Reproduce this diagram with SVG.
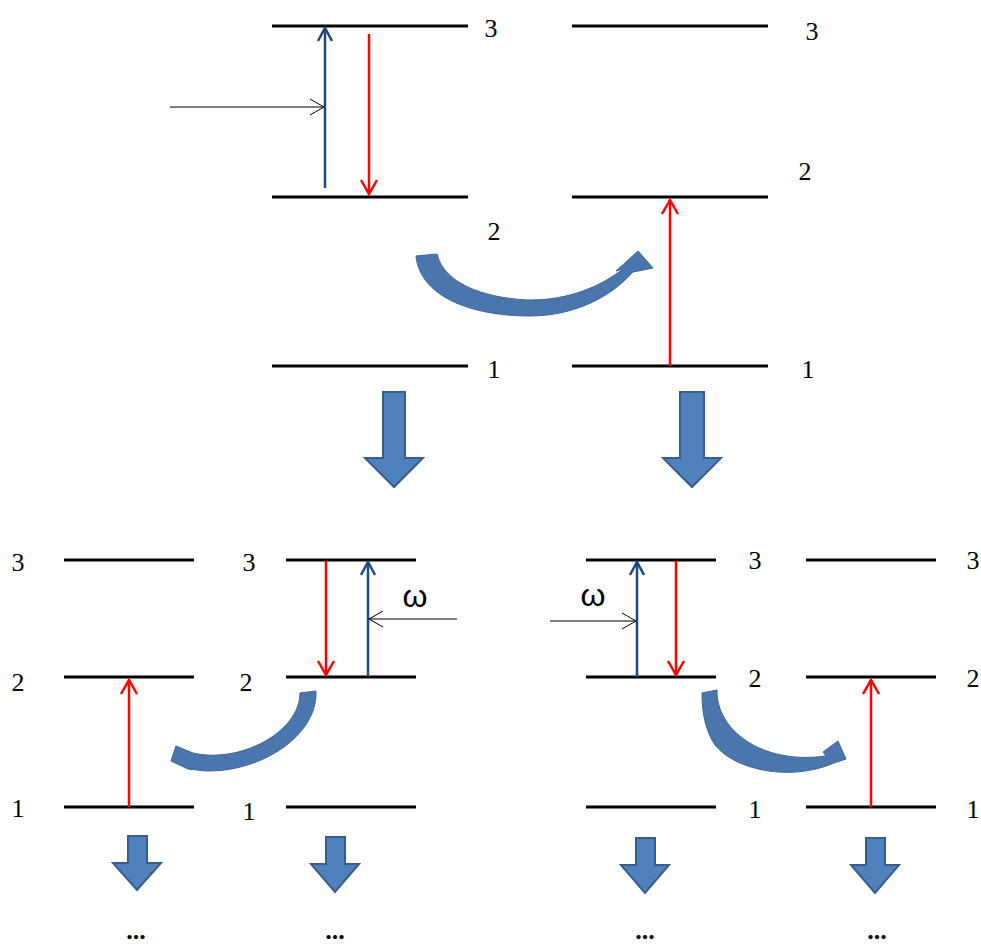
<svg xmlns="http://www.w3.org/2000/svg" width="981" height="947" viewBox="0 0 981 947">
<style>
.lvl{stroke:#000;stroke-width:3;fill:none}
.num{font-family:"Liberation Serif",serif;font-size:26px;fill:#000;text-anchor:middle}
.om{font-family:"Liberation Sans",sans-serif;font-size:32px;fill:#000;text-anchor:middle}
.dots{font-family:"Liberation Serif",serif;font-size:26px;font-weight:bold;fill:#000;text-anchor:middle}
.red{stroke:#FF0000;stroke-width:2.5;fill:none}
.blue{stroke:#1F497D;stroke-width:2.5;fill:none}
.thin{stroke:#000;stroke-width:1;fill:none}
.blk{fill:#4F81BD;stroke:#385D8A;stroke-width:2}
.curve{fill:#4A76AD;stroke:#3D6796;stroke-width:1}
</style>
<rect width="981" height="947" fill="#fff"/>

<g id="system-top-left">
<line class="lvl" x1="272" y1="26" x2="468" y2="26"/>
<line class="lvl" x1="272" y1="197" x2="468" y2="197"/>
<line class="lvl" x1="272" y1="366" x2="468" y2="366"/>
<text class="num" x="491" y="37">3</text>
<text class="num" x="494" y="240">2</text>
<text class="num" x="494" y="378">1</text>
</g>

<g id="system-top-right">
<line class="lvl" x1="572" y1="26" x2="768" y2="26"/>
<line class="lvl" x1="572" y1="197" x2="768" y2="197"/>
<line class="lvl" x1="572" y1="366" x2="768" y2="366"/>
<text class="num" x="812" y="40">3</text>
<text class="num" x="805" y="180">2</text>
<text class="num" x="808" y="378">1</text>
</g>

<g id="system-a">
<line class="lvl" x1="64" y1="560" x2="194" y2="560"/>
<line class="lvl" x1="64" y1="677" x2="194" y2="677"/>
<line class="lvl" x1="64" y1="807" x2="194" y2="807"/>
<text class="num" x="18" y="571">3</text>
<text class="num" x="18" y="691">2</text>
<text class="num" x="18" y="817">1</text>
</g>

<g id="system-b">
<line class="lvl" x1="286" y1="560" x2="416" y2="560"/>
<line class="lvl" x1="286" y1="677" x2="416" y2="677"/>
<line class="lvl" x1="286" y1="807" x2="416" y2="807"/>
<text class="num" x="249" y="571">3</text>
<text class="num" x="246" y="691">2</text>
<text class="num" x="249" y="820">1</text>
<text class="om" x="415" y="607">ω</text>
</g>

<g id="system-c">
<line class="lvl" x1="586" y1="560" x2="716" y2="560"/>
<line class="lvl" x1="586" y1="677" x2="716" y2="677"/>
<line class="lvl" x1="586" y1="807" x2="716" y2="807"/>
<text class="num" x="755" y="569">3</text>
<text class="num" x="755" y="687">2</text>
<text class="num" x="755" y="818">1</text>
<text class="om" x="593" y="606">ω</text>
</g>

<g id="system-d">
<line class="lvl" x1="806" y1="560" x2="936" y2="560"/>
<line class="lvl" x1="806" y1="677" x2="936" y2="677"/>
<line class="lvl" x1="806" y1="807" x2="936" y2="807"/>
<text class="num" x="973" y="569">3</text>
<text class="num" x="973" y="687">2</text>
<text class="num" x="973" y="818">1</text>
</g>

<g id="dots">
<text class="dots" x="136" y="939">...</text>
<text class="dots" x="335" y="939">...</text>
<text class="dots" x="645" y="939">...</text>
<text class="dots" x="877" y="939">...</text>
</g>

<g id="connectors">
<line class="blue" x1="325" y1="188" x2="325" y2="28"/>
<polyline class="blue" points="318,41 325,28 332,41"/>
<line class="red" x1="369" y1="34" x2="369" y2="194"/>
<polyline class="red" points="361,180 369,194 377,180"/>
<line class="thin" x1="170" y1="107" x2="324" y2="107"/>
<polyline class="thin" points="310,99 324,107 310,115"/>
<line class="red" x1="670" y1="366" x2="670" y2="200"/>
<polyline class="red" points="662,214 670,200 678,214"/>
<line class="red" x1="129" y1="807" x2="129" y2="680"/>
<polyline class="red" points="121,694 129,680 137,694"/>
<line class="red" x1="326" y1="561" x2="326" y2="675"/>
<polyline class="red" points="318,661 326,675 334,661"/>
<line class="blue" x1="368" y1="677" x2="368" y2="562"/>
<polyline class="blue" points="361,575 368,562 375,575"/>
<line class="thin" x1="457" y1="619" x2="369" y2="619"/>
<polyline class="thin" points="383,611 369,619 383,627"/>
<line class="blue" x1="637" y1="677" x2="637" y2="562"/>
<polyline class="blue" points="630,575 637,562 644,575"/>
<line class="red" x1="676" y1="561" x2="676" y2="675"/>
<polyline class="red" points="668,661 676,675 684,661"/>
<line class="thin" x1="550" y1="621" x2="636" y2="621"/>
<polyline class="thin" points="622,613 636,621 622,629"/>
<line class="red" x1="871" y1="807" x2="871" y2="680"/>
<polyline class="red" points="863,694 871,680 879,694"/>

<path class="curve" d="M416,256 L437,254 C445,288 495,299 530,300 C568,300 600,287 623,269 L616,271 L638,251 L653,268 L633,272 C608,300 570,316 530,316 C470,316 420,296 416,256 Z"/>
<path class="curve" d="M300,693 L316,691 C318,735 262,772 206,771 L188,769 L171,761 L176,746 L193,753 C240,764 300,732 300,693 Z"/>
<path class="curve" d="M702,693 L717,690 C716,730 762,765 826,756 L823,752 L838,741 L846,759 L834,763 C790,782 735,770 715,745 C705,730 702,712 702,693 Z"/>

<path class="blk" d="M383,392 L405,392 L405,458 L423,458 L394,487 L365,458 L383,458 Z"/>
<path class="blk" d="M680,392 L704,392 L704,458 L721,458 L692,487 L663,458 L680,458 Z"/>
<path class="blk" d="M128,836 L147,836 L147,863 L161,863 L137,890 L113,863 L128,863 Z"/>
<path class="blk" d="M326,837 L345,837 L345,864 L359,864 L335,892 L311,864 L326,864 Z"/>
<path class="blk" d="M636,838 L655,838 L655,865 L669,865 L645,893 L621,865 L636,865 Z"/>
<path class="blk" d="M866,838 L885,838 L885,865 L899,865 L875,893 L851,865 L866,865 Z"/>
</g>
</svg>
